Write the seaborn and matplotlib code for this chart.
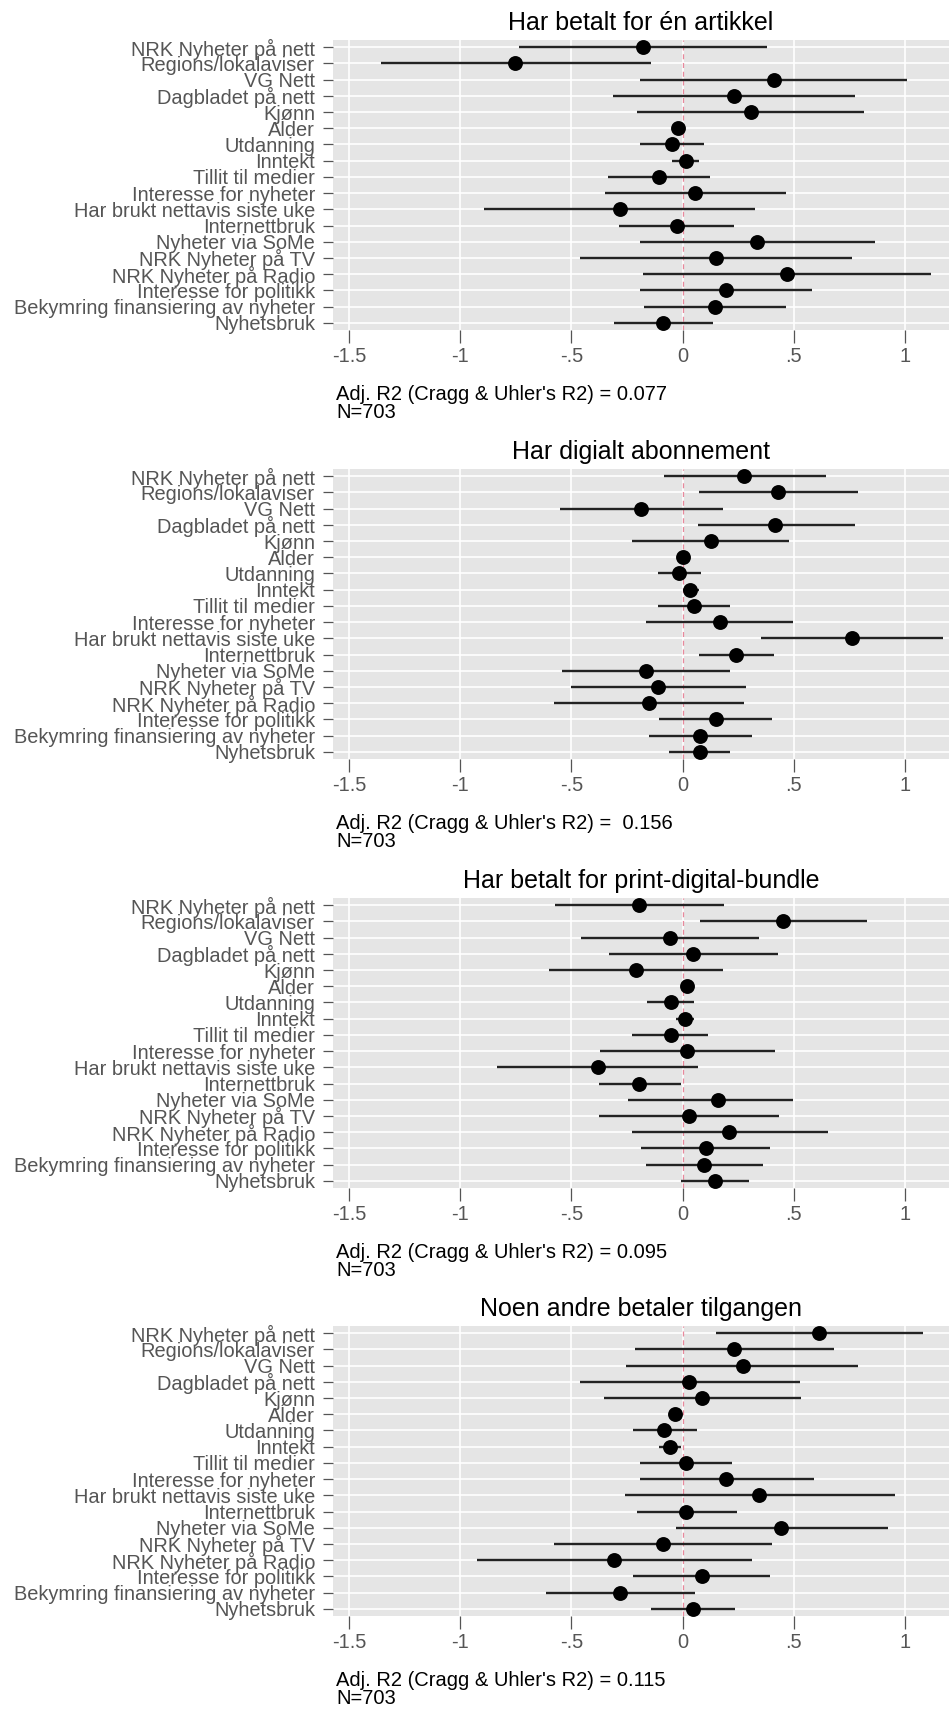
# Coefficient plots (logit) for four payment outcomes
import numpy as np
import pandas as pd
import matplotlib
matplotlib.use("Agg")
import matplotlib.pyplot as plt
import seaborn as sns

terms = ["NRK Nyheter på nett", "Regions/lokalaviser", "VG Nett", "Dagbladet på nett",
         "Kjønn", "Alder", "Utdanning", "Inntekt", "Tillit til medier",
         "Interesse for nyheter", "Har brukt nettavis siste uke", "Internettbruk",
         "Nyheter via SoMe", "NRK Nyheter på TV", "NRK Nyheter på Radio",
         "Interesse for politikk", "Bekymring finansiering av nyheter", "Nyhetsbruk"]

titles = ["Har betalt for én artikkel", "Har digialt abonnement",
          "Har betalt for print-digital-bundle", "Noen andre betaler tilgangen"]
r2_labels = ["Adj. R2 (Cragg & Uhler's R2) = 0.077",
             "Adj. R2 (Cragg & Uhler's R2) =  0.156",
             "Adj. R2 (Cragg & Uhler's R2) = 0.095",
             "Adj. R2 (Cragg & Uhler's R2) = 0.115"]
n_label = "N=703"

# panel 1: Har betalt for én artikkel
est1 = [-0.177, -0.752, 0.409, 0.232, 0.308, -0.022, -0.049, 0.014, -0.104,
        0.057, -0.281, -0.027, 0.335, 0.150, 0.469, 0.196, 0.144, -0.087]
lo1 = [-0.736, -1.357, -0.191, -0.313, -0.204, -0.037, -0.191, -0.049, -0.335,
       -0.349, -0.894, -0.286, -0.191, -0.463, -0.177, -0.191, -0.172, -0.308]
hi1 = [0.379, -0.144, 1.008, 0.777, 0.817, -0.007, 0.095, 0.074, 0.123,
       0.463, 0.327, 0.229, 0.864, 0.763, 1.117, 0.583, 0.463, 0.136]

# panel 2: Har digialt abonnement
est2 = [0.278, 0.428, -0.185, 0.417, 0.128, 0.003, -0.016, 0.035, 0.052,
        0.166, 0.760, 0.240, -0.163, -0.109, -0.153, 0.150, 0.079, 0.079]
lo2 = [-0.082, 0.074, -0.553, 0.068, -0.226, -0.010, -0.112, 0.000, -0.109,
       -0.163, 0.354, 0.074, -0.540, -0.504, -0.580, -0.104, -0.153, -0.063]
hi2 = [0.646, 0.790, 0.183, 0.774, 0.477, 0.016, 0.082, 0.074, 0.215,
       0.496, 1.172, 0.409, 0.215, 0.283, 0.278, 0.403, 0.313, 0.215]

# panel 3: Har betalt for print-digital-bundle
est3 = [-0.196, 0.450, -0.057, 0.049, -0.210, 0.022, -0.054, 0.011, -0.054,
        0.022, -0.381, -0.196, 0.158, 0.027, 0.210, 0.104, 0.095, 0.144]
lo3 = [-0.575, 0.079, -0.458, -0.330, -0.599, 0.008, -0.158, -0.030, -0.226,
       -0.371, -0.834, -0.376, -0.245, -0.376, -0.226, -0.185, -0.166, -0.008]
hi3 = [0.188, 0.828, 0.343, 0.431, 0.180, 0.036, 0.052, 0.052, 0.114,
       0.414, 0.068, -0.008, 0.496, 0.433, 0.654, 0.395, 0.362, 0.300]

# panel 4: Noen andre betaler tilgangen
est4 = [0.613, 0.232, 0.270, 0.027, 0.087, -0.033, -0.082, -0.057, 0.014,
        0.193, 0.343, 0.014, 0.441, -0.090, -0.308, 0.087, -0.281, 0.046]
lo4 = [0.150, -0.213, -0.253, -0.463, -0.354, -0.047, -0.221, -0.104, -0.193,
       -0.193, -0.259, -0.207, -0.030, -0.580, -0.926, -0.221, -0.613, -0.144]
hi4 = [1.082, 0.681, 0.790, 0.529, 0.531, -0.019, 0.065, -0.008, 0.223,
       0.591, 0.954, 0.243, 0.924, 0.401, 0.313, 0.395, 0.054, 0.237]

xticks = [-1.5, -1, -0.5, 0, 0.5, 1]
xticklabels = ["-1.5", "-1", "-.5", "0", ".5", "1"]

sns.set_theme(style="darkgrid", rc={
    "axes.facecolor": "#E5E5E5",
    "grid.color": "white",
    "grid.linewidth": 1.2,
    "axes.edgecolor": "#E5E5E5",
})
plt.rcParams["font.family"] = ["Liberation Sans", "DejaVu Sans"]

W, H = 949, 1711
fig = plt.figure(figsize=(W / 100, H / 100), dpi=100)

panels = [(est1, lo1, hi1), (est2, lo2, hi2), (est3, lo3, hi3), (est4, lo4, hi4)]
tops = [40, 469, 898, 1326]
ax_left, ax_h = 333, 290
fs = 14.4

for i, (est, lo, hi) in enumerate(panels):
    df = pd.DataFrame({"term": terms, "pos": np.arange(len(terms)),
                       "est": est, "lo": lo, "hi": hi})
    top = tops[i]
    ax = fig.add_axes([ax_left / W, 1 - (top + ax_h) / H, (W - ax_left) / W, ax_h / H])

    ax.axvline(0, color="#E8899C", lw=0.9, ls=(0, (4, 3)), zorder=1)
    ax.hlines(df["pos"], df["lo"], df["hi"], color="#222222", lw=1.7, zorder=2)
    sns.scatterplot(data=df, x="est", y="pos", ax=ax, color="black", s=115,
                    edgecolor="black", linewidth=0, zorder=3, legend=False)

    ax.set_xlim(-1.572, 1.198)
    ax.set_ylim(len(terms) - 1 + 0.45, -0.45)
    ax.set_yticks(df["pos"])
    ax.set_yticklabels(terms)
    ax.set_xticks(xticks)
    ax.set_xticklabels(xticklabels)
    ax.set_xlabel("")
    ax.set_ylabel("")
    ax.grid(True, color="white", lw=1.2)
    for s in ax.spines.values():
        s.set_visible(False)
    ax.tick_params(axis="y", length=7, width=0.9, color="#555555", pad=6,
                   labelsize=fs, labelcolor="#555555", left=True)
    ax.tick_params(axis="x", length=9, width=0.9, color="#555555", pad=3,
                   labelsize=fs, labelcolor="#555555", bottom=True)
    ax.set_title(titles[i], fontsize=18, color="black", pad=7)

    fig.text(336 / W, 1 - (top + 354) / H, r2_labels[i], fontsize=14.5,
             color="black", ha="left", va="center")
    fig.text(336 / W, 1 - (top + 373) / H, n_label, fontsize=14.5,
             color="black", ha="left", va="center")

fig.savefig("out.png", dpi=100, facecolor="white")
